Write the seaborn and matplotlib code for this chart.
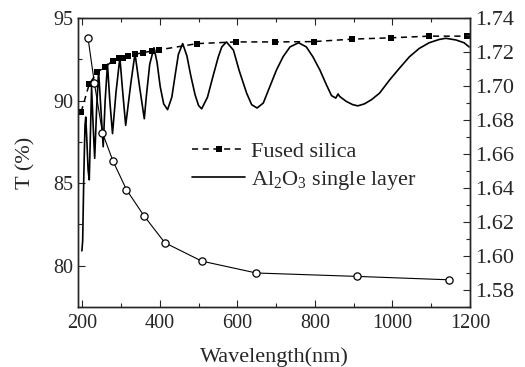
import numpy as np
import pandas as pd
import matplotlib
matplotlib.use("Agg")
import matplotlib.pyplot as plt
from matplotlib.ticker import MultipleLocator
import seaborn as sns

# Fused silica transmittance (left axis)
silica_wl = [197, 218, 238, 259, 279, 295, 305, 318, 336, 357, 379, 398,
             497, 597, 697, 797, 897, 997, 1095, 1192]
silica_T = [89.3, 91.0, 91.7, 92.05, 92.4, 92.55, 92.6, 92.7, 92.8, 92.9, 93.0, 93.07,
            93.45, 93.55, 93.55, 93.57, 93.72, 93.8, 93.9, 93.9]

# Al2O3 single layer transmittance (left axis)
al_wl = [199, 201, 204, 207, 209, 212, 215, 218, 221, 224, 228, 232, 237, 242, 248,
         254, 259, 265, 271, 278, 287, 297, 304, 312, 325, 336, 348, 360, 365, 374,
         385, 393, 401, 410, 420, 431, 440, 448, 459, 470, 480, 491, 500, 508, 523,
         537, 551, 560, 572, 590, 605, 624, 637, 651, 667, 684, 701, 718, 736, 758,
         778, 795, 813, 830, 843, 854, 860, 864, 881, 898, 911, 928, 946, 967, 993,
         1018, 1044, 1069, 1095, 1121, 1138, 1164, 1185, 1198]
al_T = [80.9, 81.5, 85.5, 88.5, 89.0, 87.5, 85.8, 85.2, 88.0, 90.8, 88.5, 86.5, 89.5, 91.8, 89.5,
        87.2, 90.0, 92.2, 90.0, 88.0, 90.5, 92.6, 90.6, 88.5, 91.0, 92.85, 90.8, 88.9, 90.2, 92.2,
        93.2, 92.3, 90.85, 89.8, 89.45, 90.2, 91.6, 92.8, 93.45, 92.7, 91.5, 90.35, 89.7, 89.5, 90.2,
        91.45, 92.65, 93.25, 93.55, 93.05, 91.8, 90.45, 89.75, 89.55, 89.85, 90.85, 91.85, 92.65, 93.25, 93.5,
        93.25, 92.65, 91.85, 90.95, 90.3, 90.15, 90.4, 90.25, 89.95, 89.75, 89.68, 89.8, 90.05, 90.45, 91.25,
        91.95, 92.65, 93.15, 93.5, 93.7, 93.77, 93.67, 93.5, 93.25]

# Refractive index (right axis)
n_wl = [215, 231, 252, 279, 314, 359, 413, 508, 649, 908, 1146]
n_val = [1.728, 1.702, 1.6725, 1.656, 1.639, 1.6237, 1.6078, 1.597, 1.590, 1.588, 1.586]

x_ticks = [200, 400, 600, 800, 1000, 1200]
yl_ticks = [80, 85, 90, 95]
yr_ticks = [1.58, 1.60, 1.62, 1.64, 1.66, 1.68, 1.70, 1.72, 1.74]

sns.set_style("ticks")
plt.rcParams['font.family'] = ['Liberation Serif', 'DejaVu Serif']
plt.rcParams['mathtext.fontset'] = 'custom'
plt.rcParams['mathtext.rm'] = 'Liberation Serif'
plt.rcParams['mathtext.it'] = 'Liberation Serif:italic'
plt.rcParams['axes.linewidth'] = 1.0

df_si = pd.DataFrame({"wl": silica_wl, "T": silica_T})
df_al = pd.DataFrame({"wl": al_wl, "T": al_T})
df_n = pd.DataFrame({"wl": n_wl, "n": n_val})

fig = plt.figure(figsize=(5.25, 3.67), dpi=100)
ax = fig.add_axes([0.1486, 0.1635, 0.7464, 0.7875])

sns.lineplot(data=df_si, x="wl", y="T", ax=ax, color="black", lw=1.1,
             marker="s", markersize=5, markeredgewidth=0, dashes=False,
             sort=False, estimator=None, label="Fused silica")
ax.lines[-1].set_dashes((4, 3))
sns.lineplot(data=df_al, x="wl", y="T", ax=ax, color="black", lw=1.2,
             sort=False, estimator=None, label="Al$_2$O$_3$ single layer")

ax2 = ax.twinx()
sns.lineplot(data=df_n, x="wl", y="n", ax=ax2, color="black", lw=0.8,
             marker="o", markersize=5.2, markerfacecolor="white",
             markeredgecolor="black", markeredgewidth=0.9,
             sort=False, estimator=None, legend=False)

ax.set_xlim(189, 1200)
ax.set_ylim(77.5, 95)
ax2.set_ylim(1.57, 1.74)
ax.set_xticks(x_ticks)
ax.set_yticks(yl_ticks)
ax2.set_yticks(yr_ticks)
ax2.set_yticklabels([f"{v:.2f}" for v in yr_ticks])
ax.xaxis.set_minor_locator(MultipleLocator(100))
ax.yaxis.set_minor_locator(MultipleLocator(2.5))
ax2.yaxis.set_minor_locator(MultipleLocator(0.01))

ax.tick_params(which="both", direction="in", top=True, labelsize=14.5, width=0.8)
ax.tick_params(which="major", length=5)
ax.tick_params(which="minor", length=3)
ax2.tick_params(which="both", direction="in", labelsize=16, width=0.8)
ax2.tick_params(which="major", length=5)
ax2.tick_params(which="minor", length=3)
ax.tick_params(axis="x", pad=5)

ax.set_xlabel("Wavelength(nm)", fontsize=16, labelpad=10)
ax.set_ylabel("T (%)", fontsize=16, labelpad=13)
ax2.set_ylabel("")

for a in (ax, ax2):
    for s in a.spines.values():
        s.set_visible(True)
        s.set_linewidth(1.0)

leg = ax.legend(loc="center left", bbox_to_anchor=(0.268, 0.485), frameon=False,
                fontsize=16, handlelength=2.4, handletextpad=0.25,
                labelspacing=0.3, numpoints=1, borderaxespad=0)

fig.savefig("out.png", dpi=100)
